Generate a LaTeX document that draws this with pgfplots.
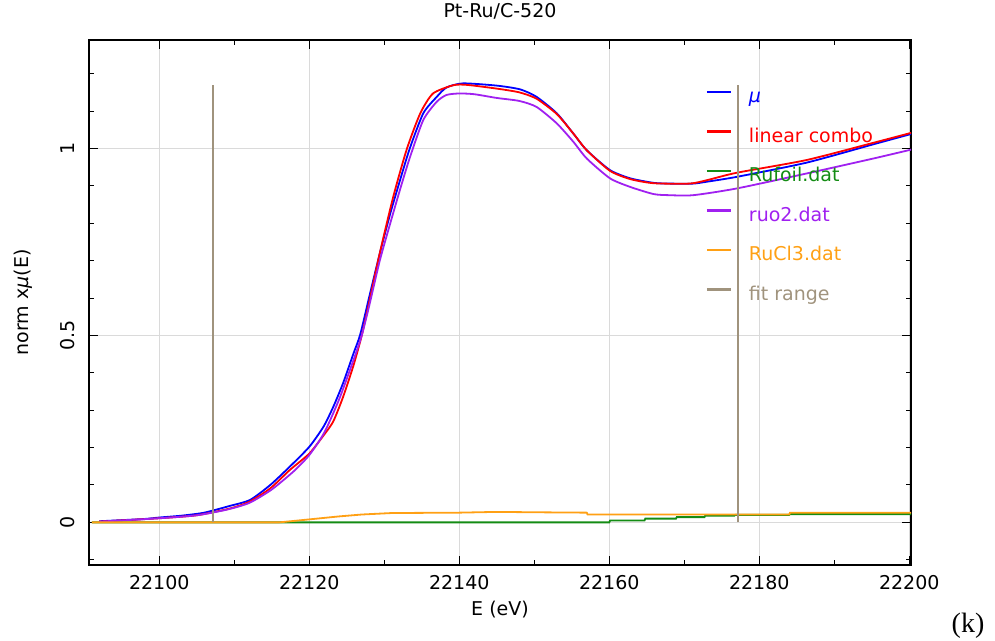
\documentclass[border=0pt]{standalone}
\usepackage{fontspec}
\setmainfont{DejaVu Sans}
\newfontfamily\timesf{Liberation Serif}
\usepackage{pgfplots}
\pgfplotsset{compat=1.18}
\definecolor{cmu}{RGB}{0,0,255}
\definecolor{clc}{RGB}{255,0,0}
\definecolor{cru}{RGB}{20,140,20}
\definecolor{cruo}{RGB}{160,32,240}
\definecolor{crucl}{RGB}{255,160,20}
\definecolor{cfit}{RGB}{160,147,125}
\definecolor{cgrid}{RGB}{218,218,218}
\newcommand{\lkey}{\rule[9.9pt]{24pt}{2.3pt}\hspace{18pt}}
\begin{document}
\begin{tikzpicture}
\useasboundingbox (0pt,0pt) rectangle (995pt,640pt);
\begin{axis}[
  at={(89pt,75pt)}, anchor=south west,
  scale only axis, width=822pt, height=525pt,
  xmin=22090.63, xmax=22200.23, ymin=-0.114, ymax=1.29,
  font=\fontsize{19}{23}\selectfont,
  scaled x ticks=false,
  /pgf/number format/assume math mode=true,
  /pgf/number format/1000 sep={},
  xtick={22100,22120,22140,22160,22180,22200},
  xticklabels={22100,22120,22140,22160,22180,22200},
  ytick={0,0.5,1},
  yticklabels={0,0.5,1},
  minor xtick={22110,22130,22150,22170,22190},
  minor ytick={-0.1,0.1,0.2,0.3,0.4,0.6,0.7,0.8,0.9,1.1,1.2},
  major tick length=9pt, minor tick length=5pt,
  tick style={black, line width=1pt},
  axis line style={line width=1.5pt},
  grid=major,
  major grid style={cgrid, line width=1.5pt},
  xticklabel style={anchor=center},
  xticklabel shift=18pt,
  yticklabel style={rotate=90, anchor=center},
  yticklabel shift=21pt,
  title={Pt-Ru/C-520},
  title style={at={(axis description cs:0.5,1.0438)}, anchor=center, inner sep=0pt},
  xlabel={E (eV)},
  xlabel style={at={(axis description cs:0.5,-0.0857)}, anchor=center, inner sep=0pt},
  ylabel={norm x{\itshape μ}(E)},
  ylabel style={at={(axis description cs:-0.0803,0.5)}, anchor=center, inner sep=0pt},
  legend cell align=left,
  legend style={draw=none, fill=none, at={(0.7518,0.9067)}, anchor=north west,
    inner sep=0pt, outer sep=0pt, row sep=20.5pt, column sep=0pt,
    nodes={inner sep=0pt, text height=14pt, text depth=5pt}},
]
\addplot[cmu, line width=1.8pt, smooth, tension=0.4, forget plot] coordinates {
(22092,0.003) (22095,0.006) (22098,0.009) (22100,0.013) (22103,0.018) (22106,0.026)
(22109.4,0.044) (22112.1,0.060) (22114.8,0.100) (22117.4,0.149) (22120,0.202)
(22121.9,0.256) (22123.2,0.309) (22124.5,0.372) (22125.9,0.452) (22126.8,0.503)
(22128.1,0.612) (22129.4,0.719) (22130.8,0.826) (22132.1,0.915) (22133.4,1.000)
(22135.2,1.094) (22137,1.138) (22138.3,1.163) (22140.5,1.174) (22145,1.168)
(22148.1,1.158) (22150.3,1.138) (22153,1.094) (22155.2,1.040) (22157,0.995)
(22160.1,0.942) (22162.8,0.920) (22165.9,0.908) (22168,0.906) (22171.2,0.906)
(22173,0.911) (22177,0.924) (22186.3,0.962) (22195.2,1.011) (22200.5,1.040)
};
\addplot[clc, line width=1.8pt, smooth, tension=0.4, forget plot] coordinates {
(22092,0.002) (22100,0.011) (22105,0.019) (22109.4,0.037) (22112,0.055)
(22114.8,0.091) (22117.4,0.140) (22120,0.184) (22122,0.235) (22123.2,0.270)
(22124.5,0.335) (22125.9,0.420) (22127,0.50) (22128,0.59) (22129.4,0.72)
(22131.2,0.871) (22133,0.998) (22134.8,1.094) (22136.5,1.147) (22139.2,1.169)
(22141,1.170) (22145,1.160) (22148,1.150) (22150.3,1.133) (22153,1.092)
(22155.2,1.040) (22157,0.995) (22160.1,0.940) (22162.8,0.918) (22165.9,0.907)
(22170.7,0.906) (22173,0.915) (22177,0.935) (22186.3,0.969) (22195.2,1.015)
(22200.5,1.043)
};
\addplot[cru, line width=1.8pt, forget plot] coordinates {
(22091,0) (22160,0) (22160.1,0.005) (22164.7,0.005) (22164.8,0.010) (22168.9,0.010)
(22169,0.014) (22172.7,0.014) (22172.8,0.018) (22176.7,0.018) (22176.8,0.020)
(22184,0.020) (22184.1,0.022) (22200.5,0.022)
};
\addplot[cruo, line width=1.8pt, smooth, tension=0.4, forget plot] coordinates {
(22092,0.002) (22100,0.011) (22105,0.019) (22109,0.034) (22112,0.052) (22115,0.088)
(22118,0.138) (22120,0.18) (22122,0.24) (22124,0.33) (22126,0.44) (22127,0.50)
(22128,0.58) (22129.4,0.70) (22130.8,0.80) (22132.1,0.89) (22133.4,0.975)
(22135.2,1.076) (22137,1.125) (22138.3,1.143) (22140,1.147) (22142,1.145)
(22145,1.135) (22148,1.127) (22150.3,1.111) (22153,1.067) (22155.2,1.018)
(22157,0.973) (22160.1,0.920) (22162.8,0.897) (22165.9,0.878) (22168,0.875)
(22171.2,0.875) (22177,0.893) (22186.3,0.933) (22195.2,0.973) (22200.5,0.998)
};
\addplot[crucl, line width=1.8pt, forget plot] coordinates {
(22091,0) (22116,0) (22118,0.004) (22121,0.010) (22124,0.016) (22127,0.021)
(22131,0.025) (22140,0.026) (22145,0.028) (22150,0.027) (22157,0.026)
(22157.1,0.021) (22184,0.021) (22184.1,0.026) (22200.5,0.026)
};
\addplot[cfit, line width=2pt, forget plot] coordinates {(22107.1,0) (22107.1,1.169)};
\addplot[cfit, line width=2pt, forget plot] coordinates {(22177.1,0) (22177.1,1.169)};
\addlegendimage{empty legend}
\addlegendentry[text=cmu]{\lkey{\itshape μ}}
\addlegendimage{empty legend}
\addlegendentry[text=clc]{\lkey linear combo}
\addlegendimage{empty legend}
\addlegendentry[text=cru]{\lkey Rufoil.dat}
\addlegendimage{empty legend}
\addlegendentry[text=cruo]{\lkey ruo2.dat}
\addlegendimage{empty legend}
\addlegendentry[text=crucl]{\lkey RuCl3.dat}
\addlegendimage{empty legend}
\addlegendentry[text=cfit]{\lkey fit range}
\end{axis}
\node[font=\timesf\fontsize{28}{32}\selectfont, anchor=center] at (968pt,14pt) {(k)};
\end{tikzpicture}
\end{document}
